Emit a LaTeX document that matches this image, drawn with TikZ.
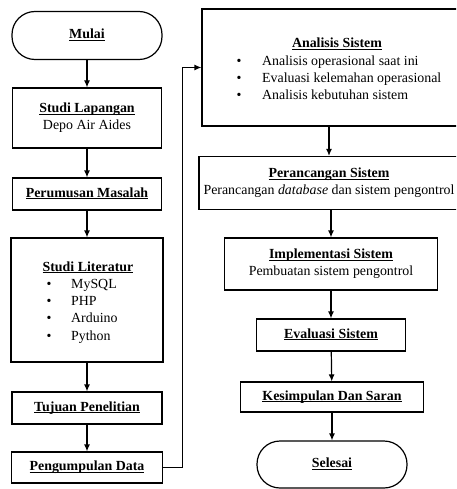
\documentclass[tikz,border=0pt]{standalone}
\usepackage{fontspec}
\setmainfont{Liberation Serif}
\usetikzlibrary{arrows.meta,positioning,calc}

\newcommand{\judul}[1]{\textbf{\underline{\smash{#1}}\vphantom{Ag}}}

\begin{document}
\begin{tikzpicture}[
  x=1pt, y=-1pt,
  font=\fontsize{13.9}{17.5}\selectfont,
  box/.style={draw, line width=1.2pt, align=center, inner sep=0pt},
  term/.style={box, rounded corners=23pt},
  butir/.style={anchor=base west, inner sep=0pt},
  titik/.style={anchor=base, inner sep=0pt},
  arr/.style={-{Latex[length=7pt,width=6pt]}, line width=1.2pt}
]
\clip (0,0) rectangle (456,489);

% kolom kiri
\node[term, minimum width=150pt, minimum height=48pt] (mulai) at (87,35.5) {\judul{Mulai}};
\node[box, minimum width=149pt, minimum height=60pt] (lapangan) at (87,118) {\judul{Studi Lapangan}\\Depo Air Aides};
\node[box, minimum width=149pt, minimum height=32pt] (rumusan) at (87,194) {\judul{Perumusan Masalah}};
\node[box, minimum width=152pt, minimum height=124pt] (literatur) at (87,300) {};
\node[titik] (literaturT) at (88,271) {\judul{Studi Literatur}};
\foreach \t [count=\i] in {MySQL,PHP,Arduino,Python}{
  \node[titik] (litB\i) at (49,271+17.3*\i) {\textbullet};
  \node[butir] (lit\i) at (71,271+17.3*\i) {\t};
}
\node[box, minimum width=150pt, minimum height=32pt] (tujuan) at (87,408) {\judul{Tujuan Penelitian}};
\node[box, minimum width=151pt, minimum height=31pt] (kumpul) at (87,467.5) {\judul{Pengumpulan Data}};

% kolom kanan
\node[box, minimum width=270pt, minimum height=117pt] (analisis) at (337,67.5) {};
\node[titik] (analisisT) at (337,48) {\judul{Analisis Sistem}};
\foreach \t [count=\i] in {Analisis operasional saat ini,Evaluasi kelemahan operasional,Analisis kebutuhan sistem}{
  \node[titik] (anB\i) at (239,48+17.2*\i) {\textbullet};
  \node[butir] (an\i) at (262,48+17.2*\i) {\t};
}
\node[box, minimum width=260pt, minimum height=53pt] (rancang) at (329,183) {\judul{Perancangan Sistem}\\Perancangan \textit{database} dan sistem pengontrol};
\node[box, minimum width=213pt, minimum height=52pt] (implementasi) at (331,264) {\judul{Implementasi Sistem}\\Pembuatan sistem pengontrol};
\node[box, minimum width=149pt, minimum height=32pt] (evaluasi) at (331,335) {\judul{Evaluasi Sistem}};
\node[box, minimum width=183pt, minimum height=30pt] (simpulan) at (332,397) {\judul{Kesimpulan Dan Saran}};
\node[term, minimum width=150pt, minimum height=47pt] (selesai) at (332,464.5) {\judul{Selesai}};

% panah
\draw[arr] (mulai) -- (lapangan);
\draw[arr] (lapangan) -- (rumusan);
\draw[arr] (rumusan) -- (literatur);
\draw[arr] (literatur) -- (tujuan);
\draw[arr] (tujuan) -- (kumpul);
\draw[arr] (kumpul.east) -- ++(19,0) |- (analisis.west);
\draw[arr] (rancang.north |- analisis.south) -- (rancang.north);
\draw[arr] (implementasi.north |- rancang.south) -- (implementasi.north);
\draw[arr] (implementasi) -- (evaluasi);
\draw[arr] (evaluasi) -- (simpulan);
\draw[arr] (simpulan) -- (selesai);
\end{tikzpicture}
\end{document}
